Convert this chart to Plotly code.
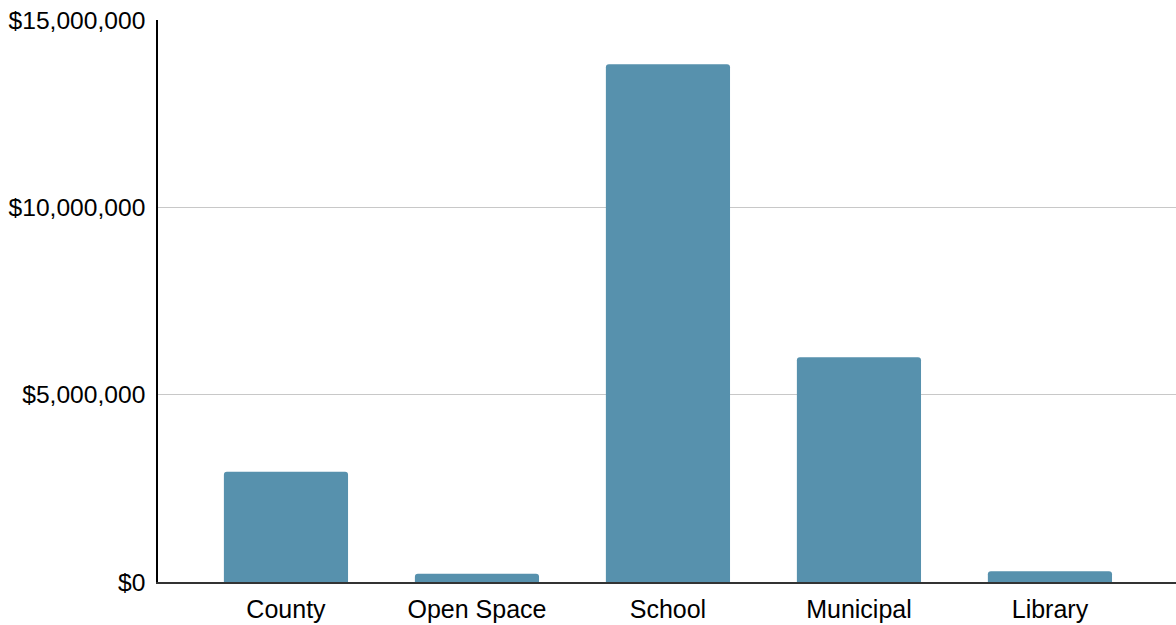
import plotly.graph_objects as go

categories = ["County", "Open Space", "School", "Municipal", "Library"]
values = [2940000, 220000, 13820000, 6000000, 285000]
tick_vals = [0, 5000000, 10000000, 15000000]
tick_text = ["$0", "$5,000,000", "$10,000,000", "$15,000,000"]

fig = go.Figure(go.Bar(
    x=categories, y=values,
    marker=dict(color="#5791ad", cornerradius=3, line=dict(width=0)),
))

fig.update_layout(
    width=1176, height=625,
    margin=dict(l=158, r=0, t=20, b=43),
    plot_bgcolor="white", paper_bgcolor="white",
    bargap=0.35,
    showlegend=False,
    font=dict(family="Liberation Sans, Arial, sans-serif", size=25, color="#000000"),
)
fig.update_yaxes(
    range=[0, 15000000], tickvals=tick_vals, ticktext=tick_text,
    showgrid=True, gridcolor="#c8c8c8", gridwidth=1.2,
    showline=True, linecolor="#000000", linewidth=1.5,
    zeroline=False, ticks="", ticklabelstandoff=6,
    tickfont=dict(size=24.6),
)
fig.update_xaxes(
    range=[-0.67, 4.66],
    showline=True, linecolor="#333333", linewidth=2,
    ticks="", showgrid=False, ticklabelstandoff=4,
    tickfont=dict(size=25),
)

fig.write_html("out.html")
